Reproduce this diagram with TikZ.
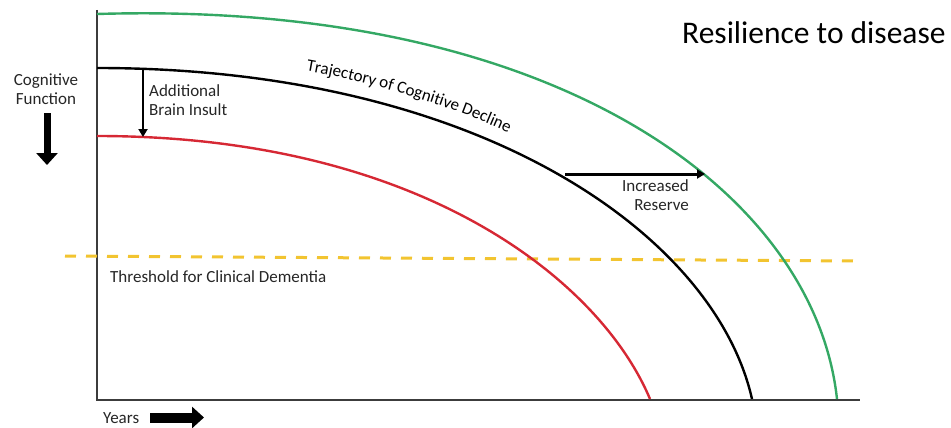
\documentclass[tikz,border=0pt]{standalone}
\usepackage{fontspec}
\setmainfont{Carlito}
\usetikzlibrary{arrows.meta,decorations.text}
\definecolor{resgreen}{RGB}{52,168,100}
\definecolor{insultred}{RGB}{214,40,52}
\definecolor{threshgold}{RGB}{242,196,48}
\definecolor{axisgray}{RGB}{60,60,60}
\newcommand{\lblfont}{\fontsize{17}{19.5}\selectfont}

\tikzset{
  curve/.style={line width=2.4pt},
  fatarrow/.style={line width=#1,-{Triangle[length=12pt,width=21pt]}},
  thinarrow/.style={line width=#1,-{Triangle[length=8pt,width=9pt]}},
  lbl/.style={inner sep=0pt,font=\lblfont,text=black!85}
}

\begin{document}
\begin{tikzpicture}[x=1pt,y=-1pt]
  \useasboundingbox (0,0) rectangle (951,428);

  % axes
  \draw[axisgray,line width=2.5pt] (97,10) -- (97,400) -- (860,400);

  % threshold
  \draw[threshgold,line width=3pt,dash pattern=on 11pt off 10pt] (65,256) -- (860,261);

  % the three trajectories
  \draw[curve,resgreen] (97,14) .. controls (560,0) and (815,195) .. (837,399);
  \draw[curve,black] (97,68) .. controls (480,68) and (715,235) .. (752,399);
  \draw[curve,insultred] (97,136) .. controls (420,136) and (600,280) .. (650,399);

  \path[decorate,decoration={text along path,text align=left,
      text={|\lblfont|Trajectory of Cognitive Decline}}]
    (306,71) .. controls (380,84) and (480,112) .. (560,160);

  % labels
  \node (cogtext) [lbl,align=center] at (46,89) {Cognitive\\Function};
  \node (yearstext) [lbl,anchor=base west] at (103,423) {Years};
  \node (insulttext) [lbl,align=left,anchor=north west] at (149,84) {Additional\\Brain Insult};
  \node (reservetext) [lbl,align=right,anchor=north east] at (689,179) {Increased\\Reserve};
  \node (threshtext) [lbl,anchor=base west] at (110,282) {Threshold for Clinical Dementia};
  \node (resiltext) [inner sep=0pt,anchor=base west,font=\fontsize{31.5}{36}\selectfont] at (682,44) {Resilience to disease};

  % arrows
  \coordinate (blacktop) at (143,68);
  \coordinate (redtop) at (143,137);
  \coordinate (blackmid) at (565,174);
  \coordinate (greenmid) at (705,174);
  \draw[thinarrow=2pt] (blacktop) -- (redtop);
  \draw[thinarrow=3pt] (blackmid) -- (greenmid);

  \coordinate (cogtop) at (47,113);
  \coordinate (cogtip) at (47,165);
  \coordinate (yearstail) at (150,417.5);
  \coordinate (yearstip) at (204,417.5);
  \draw[fatarrow=7pt] (cogtop) -- (cogtip);
  \draw[fatarrow=10pt] (yearstail) -- (yearstip);
\end{tikzpicture}
\end{document}
